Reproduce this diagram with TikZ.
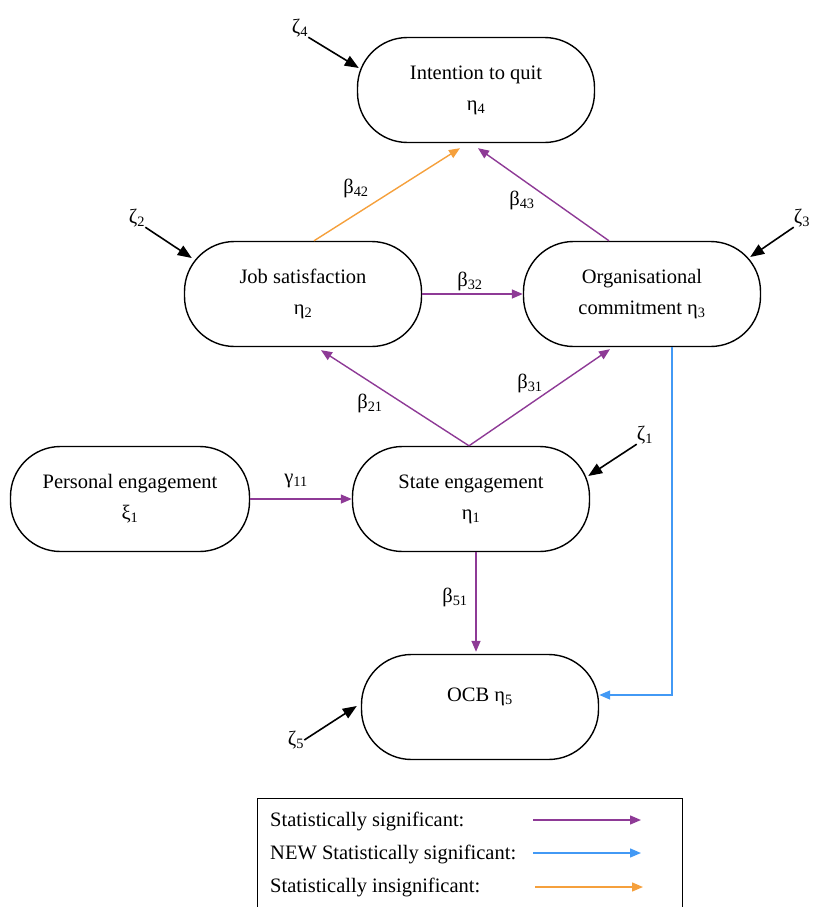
\documentclass[tikz,border=0pt]{standalone}
\usepackage{fontspec}
\setmainfont{Liberation Serif}
\usetikzlibrary{arrows.meta}
\definecolor{sigpurple}{RGB}{142,58,150}
\definecolor{newblue}{RGB}{66,153,245}
\definecolor{insigorange}{RGB}{245,160,60}
\newcommand{\sbs}[1]{\textsubscript{#1}}
\begin{document}
\begin{tikzpicture}[x=1pt,y=-1pt,
  every node/.style={font=\fontsize{20.5}{31}\selectfont},
  construct/.style={draw,line width=1.4pt,rounded corners=50pt,minimum width=237pt,
    minimum height=105pt,align=center,inner sep=0pt},
  pathline/.style={line width=1.4pt,-{Triangle[length=11pt,width=9pt]}},
  sig/.style={pathline,draw=sigpurple},
  newsig/.style={pathline,draw=newblue},
  insig/.style={pathline,draw=insigorange},
  zarrow/.style={line width=1.6pt,-{Triangle[length=14pt,width=11pt]}},
  lbl/.style={inner sep=0pt},
]
\useasboundingbox (0,0) rectangle (812,907);

% constructs
\node[construct] (itq) at (476,90) {Intention to quit\\η\sbs{4}};
\node[construct] (job) at (303,294) {Job satisfaction\\η\sbs{2}};
\node[construct] (org) at (642,294) {Organisational\\commitment η\sbs{3}};
\node[construct,minimum width=239pt] (pe) at (130,499) {Personal engagement\\ξ\sbs{1}};
\node[construct] (st) at (471,499) {State engagement\\η\sbs{1}};
\node[construct] (ocb) at (480,707) {};
\node[lbl] (ocbtext) at (480,697) {OCB η\sbs{5}};

% disturbance terms
\node[lbl] (z4) at (300,28) {ζ\sbs{4}};
\node[lbl] (z2) at (137,218) {ζ\sbs{2}};
\node[lbl] (z3) at (802,218) {ζ\sbs{3}};
\node[lbl] (z1) at (645,435) {ζ\sbs{1}};
\node[lbl] (z5) at (296,740) {ζ\sbs{5}};
\draw[zarrow] (z4.south east) -- ([xshift=2pt,yshift=22pt]itq.west);
\draw[zarrow] (z2.south east) -- ([xshift=8pt,yshift=36pt]job.west);
\draw[zarrow] (z3.south west) -- ([xshift=-11pt,yshift=37pt]org.east);
\draw[zarrow] (z1.south west) -- ([xshift=-2pt,yshift=23pt]st.east);
\draw[zarrow] (z5.east) -- ([xshift=-4pt,yshift=1pt]ocb.west);

% structural paths
\draw[insig] ([xshift=11pt]job.north) -- ([xshift=-16pt,yshift=-5pt]itq.south);
\draw[sig] ([xshift=-33pt]org.north) -- ([xshift=2pt,yshift=-5pt]itq.south);
\draw[sig] (job.east) -- (org.west);
\draw[sig] ([xshift=-2pt]st.north) -- ([xshift=18pt,yshift=-3pt]job.south);
\draw[sig] ([xshift=-2pt]st.north) -- ([xshift=-32pt,yshift=-2pt]org.south);
\draw[sig] (pe.east) -- (st.west);
\draw[sig] ([xshift=5pt]st.south) -- ([xshift=-4pt,yshift=2pt]ocb.north);
\draw[newsig] ([xshift=30pt]org.south) |- ([yshift=12pt]ocb.east);

% path coefficients
\node[lbl] (b42) at (356,188) {β\sbs{42}};
\node[lbl] (b43) at (522,200) {β\sbs{43}};
\node[lbl] (b32) at (470,281) {β\sbs{32}};
\node[lbl] (b21) at (370,403) {β\sbs{21}};
\node[lbl] (b31) at (530,383) {β\sbs{31}};
\node[lbl] (g11) at (296,481) {γ\sbs{11}};
\node[lbl] (b51) at (455,597) {β\sbs{51}};

% legend
\draw[line width=1pt] (257,930) -- (257,798) -- (682,798) -- (682,930);
\node[lbl,anchor=base west] (leg1) at (270,826) {Statistically significant:};
\node[lbl,anchor=base west] (leg2) at (270,859) {NEW Statistically significant:};
\node[lbl,anchor=base west] (leg3) at (270,892) {Statistically insignificant:};
\coordinate (l1a) at (533,820); \coordinate (l1b) at (641,820);
\coordinate (l2a) at (533,853); \coordinate (l2b) at (641,853);
\coordinate (l3a) at (535,887); \coordinate (l3b) at (643,887);
\draw[sig] (l1a) -- (l1b);
\draw[newsig] (l2a) -- (l2b);
\draw[insig] (l3a) -- (l3b);
\end{tikzpicture}
\end{document}
